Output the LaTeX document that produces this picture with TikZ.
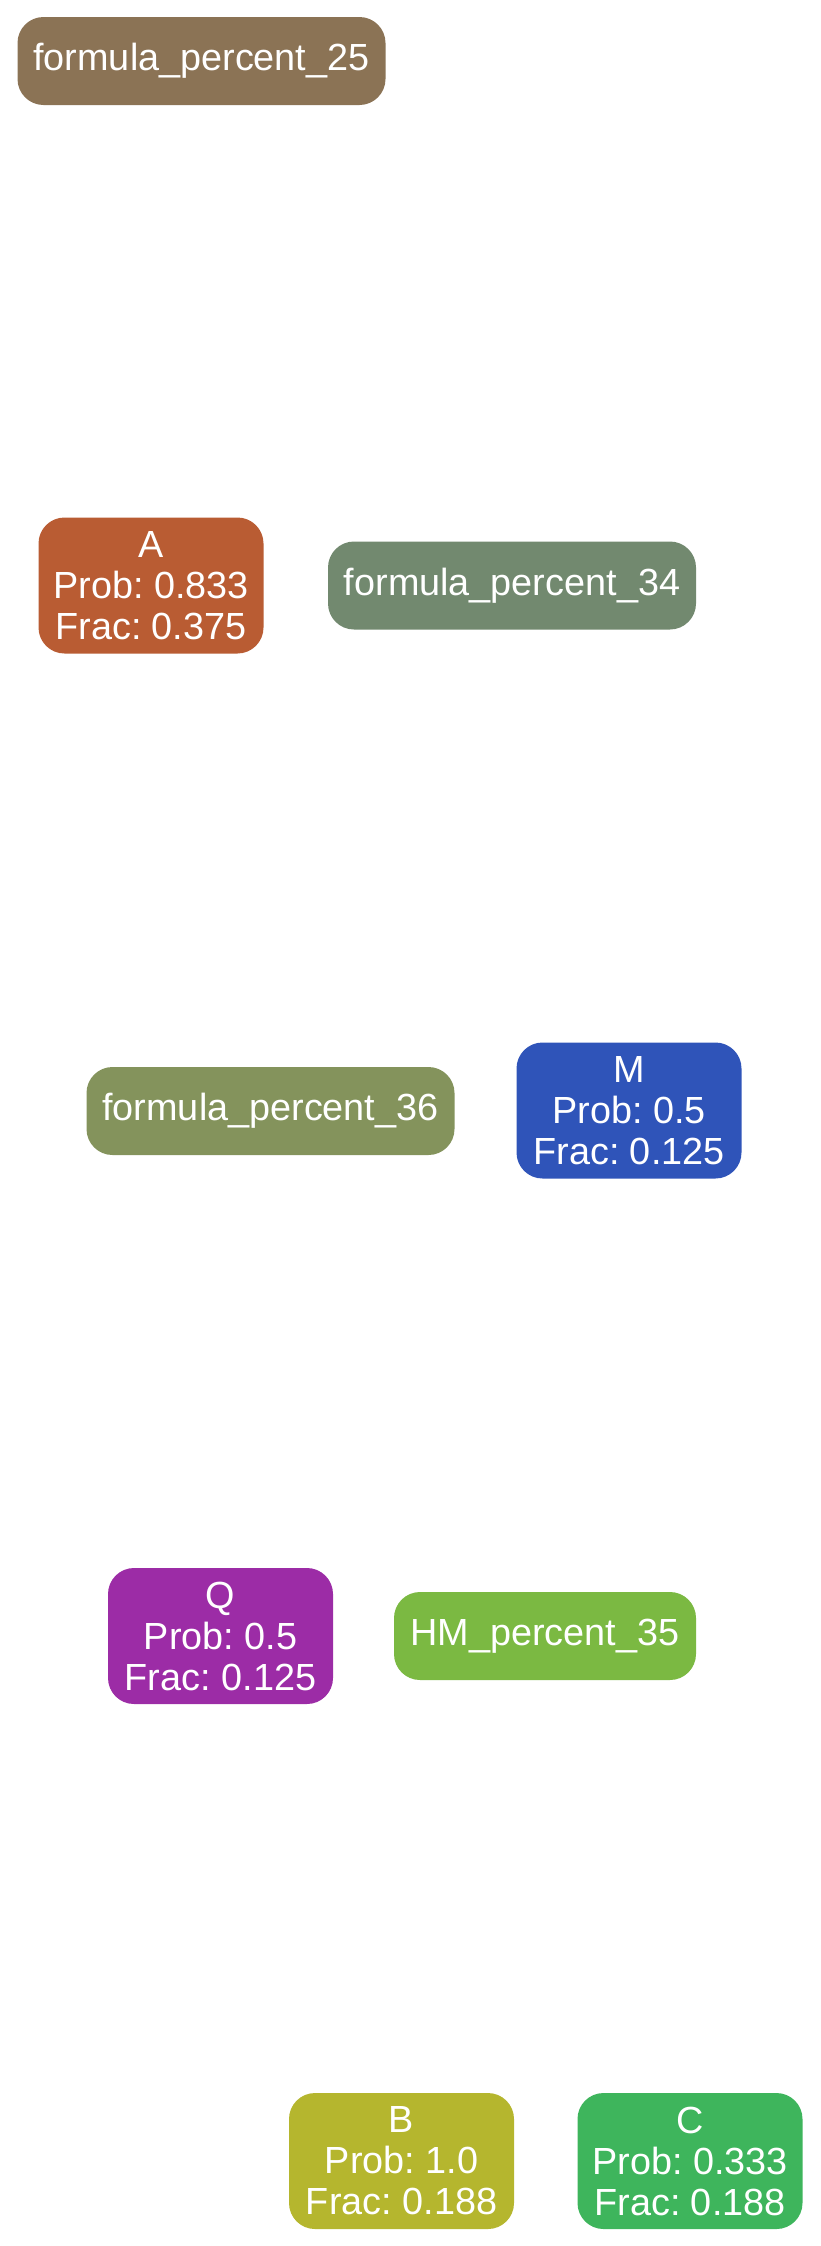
\documentclass[tikz,border=0pt]{standalone}
\usepackage{fontspec}
\setmainfont{Liberation Sans}
\usepackage{tikz}
\usetikzlibrary{positioning}
\frenchspacing

\definecolor{colfp25}{HTML}{8B7355}
\definecolor{colA}{HTML}{B95C33}
\definecolor{colfp34}{HTML}{72896F}
\definecolor{colfp36}{HTML}{84935C}
\definecolor{colM}{HTML}{2F54B9}
\definecolor{colQ}{HTML}{9C2CA6}
\definecolor{colHM}{HTML}{7BB942}
\definecolor{colB}{HTML}{B5B62E}
\definecolor{colC}{HTML}{3EB55C}

\begin{document}
\begin{tikzpicture}[
    x=1pt, y=-1pt,
    every node/.style={align=center, text=white, inner sep=0pt, rounded corners=26pt,
      font=\fontsize{37.8}{41}\selectfont\frenchspacing},
    single/.style={minimum width=368pt, minimum height=88pt},
    triple/.style={minimum width=225pt, minimum height=136pt}
]
\useasboundingbox (0,0) rectangle (821,2246);

% Nodes
\node[single, fill=colfp25] (fp25) at (201.5,61) {formula\_percent\_25};
\node[triple, fill=colA] (A) at (151,585.5) {A\\ Prob: 0.833\\ Frac: 0.375};
\node[single, fill=colfp34] (fp34) at (512,585.5) {formula\_percent\_34};
\node[single, fill=colfp36] (fp36) at (270.5,1111) {formula\_percent\_36};
\node[triple, fill=colM] (M) at (629,1110.5) {M\\ Prob: 0.5\\ Frac: 0.125};
\node[triple, fill=colQ] (Q) at (220.5,1636) {Q\\ Prob: 0.5\\ Frac: 0.125};
\node[single, fill=colHM, minimum width=302pt] (HM) at (545,1636) {HM\_percent\_35};
\node[triple, fill=colB] (B) at (401.5,2161) {B\\ Prob: 1.0\\ Frac: 0.188};
\node[triple, fill=colC] (C) at (690,2161) {C\\ Prob: 0.333\\ Frac: 0.188};

\end{tikzpicture}
\end{document}
